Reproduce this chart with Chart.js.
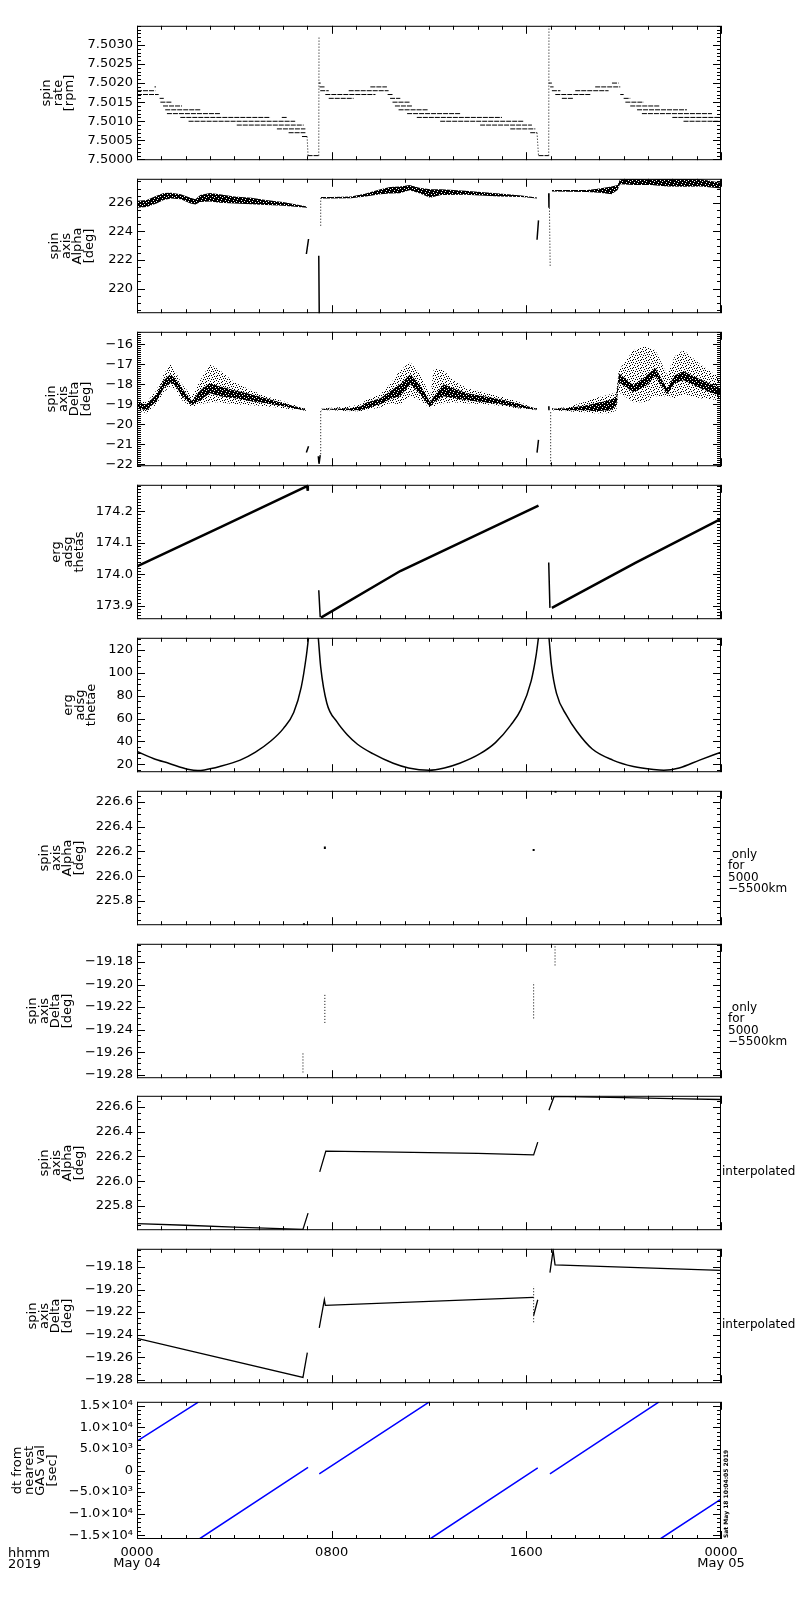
<!DOCTYPE html>
<html>
<head>
<meta charset="utf-8">
<title>ERG spin axis, 2019 May 04</title>
<script src="https://cdn.jsdelivr.net/npm/chart.js@4.4.1/dist/chart.umd.min.js"></script>
<style>
  html, body { margin: 0; padding: 0; background: #ffffff; }
  #page { position: relative; width: 800px; height: 1600px; overflow: hidden; }
  #page canvas { position: absolute; left: 0; }
</style>
</head>
<body>
<div id="page"></div>
<script>
// time is in hours after 0000 UT, 2019 May 04
const timeTicks = [0, 8, 16, 24];
const timeTickLabels = [['0000', 'May 04'], '0800', '1600', ['0000', 'May 05']];

// 1) spin rate [rpm] - flat runs at the quantised levels
const rateRunFrom  = [0.00, 0.00, 0.72, 0.93, 0.96, 1.07, 1.16, 1.23, 1.78, 5.95, 2.12, 4.10, 5.75, 6.23, 6.78, 7.01,
                      7.47, 7.50, 7.53, 7.74, 7.88, 8.70, 9.59, 10.30, 10.40, 10.50, 10.60, 10.75, 11.10, 11.50, 12.46, 14.10, 15.34, 16.16, 16.50,
                      16.92, 16.98, 17.05, 17.19, 17.46, 18.01, 18.83, 19.52, 19.86, 20.00, 20.07, 20.27, 20.55, 20.75, 22.00, 22.46];
const rateRunTo    = [0.75, 0.89, 0.78, 1.10, 1.44, 1.85, 2.60, 3.42, 5.48, 6.15, 6.50, 6.85, 6.92, 6.92, 6.99, 7.47,
                      7.55, 7.74, 7.88, 9.80, 8.90, 10.34, 10.27, 10.50, 10.82, 11.23, 11.30, 11.98, 13.29, 15.00, 15.89, 16.23, 16.37, 16.44, 16.92,
                      17.05, 17.12, 17.40, 18.63, 17.94, 19.38, 19.86, 19.79, 20.00, 20.27, 20.82, 21.50, 22.60, 23.63, 24.00, 24.00];
const rateRunLevel = [7.5018, 7.5017, 7.5019, 7.5016, 7.5015, 7.5014, 7.5013, 7.5012, 7.5011, 7.5011, 7.5010, 7.5009, 7.5008, 7.5007, 7.5006, 7.5001,
                      7.5020, 7.5019, 7.5018, 7.5017, 7.5016, 7.5018, 7.5019, 7.5017, 7.5016, 7.5015, 7.5014, 7.5013, 7.5012, 7.5011, 7.5010, 7.5009, 7.5008, 7.5007, 7.5001,
                      7.5020, 7.5019, 7.5018, 7.5017, 7.5016, 7.5018, 7.5019, 7.5020, 7.5017, 7.5016, 7.5015, 7.5014, 7.5013, 7.5012, 7.5011, 7.5010];
const rateJumpH0 = [6.99, 7.47, 16.44, 16.92];
const rateJumpV0 = [7.5006, 7.5001, 7.5007, 7.5001];
const rateJumpH1 = [7.03, 7.48, 16.50, 16.93];
const rateJumpV1 = [7.5001, 7.5032, 7.5001, 7.5035];
const rateTicks = [7.5000, 7.5005, 7.5010, 7.5015, 7.5020, 7.5025, 7.5030];

// 2) spin axis Alpha [deg] - envelope of the scattered band
const alphaHours = [0, 0.4, 0.8, 1.1, 1.4, 1.8, 2.2, 2.4, 2.6, 3.0, 3.4, 4.0, 4.7, 5.3, 6.0, 6.5, 6.99, 7.3,
                    7.56, 8.0, 8.8, 9.4, 10.0, 10.4, 10.8, 11.2, 11.6, 12.05, 12.5, 13.5, 14.9, 15.8, 16.44, 16.7,
                    17.05, 17.8, 18.5, 19.0, 19.5, 19.75, 19.85, 20.4, 21.1, 21.8, 22.5, 23.2, 24.0];
const alphaUpper = [226.15, 226.2, 226.5, 226.68, 226.7, 226.6, 226.35, 226.25, 226.55, 226.68, 226.6, 226.45, 226.35, 226.2, 226.05, 225.9, 225.75, null,
                    226.4, 226.4, 226.45, 226.65, 226.95, 227.1, 227.15, 227.25, 227.05, 226.95, 226.95, 226.85, 226.65, 226.52, 226.38, null,
                    226.9, 226.9, 226.9, 227.0, 227.15, 227.25, 227.65, 227.68, 227.65, 227.68, 227.68, 227.65, 227.4];
const alphaLower = [225.65, 225.7, 225.95, 226.2, 226.3, 226.25, 225.95, 225.88, 226.05, 226.1, 226.0, 225.95, 225.9, 225.85, 225.8, 225.72, 225.65, null,
                    226.3, 226.3, 226.32, 226.45, 226.6, 226.65, 226.67, 226.88, 226.67, 226.35, 226.55, 226.56, 226.45, 226.4, 226.3, null,
                    226.8, 226.78, 226.75, 226.7, 226.6, 226.9, 227.3, 227.25, 227.25, 227.15, 227.12, 227.15, 227.0];
const alphaStrokeH0 = [6.96, 7.47, 16.44, 16.92];
const alphaStrokeV0 = [222.42, 222.3, 223.42, 226.67];
const alphaStrokeH1 = [7.05, 7.49, 16.50, 16.93];
const alphaStrokeV1 = [223.47, 218.2, 224.77, 225.66];
const alphaDotH0 = [7.55, 16.95];
const alphaDotV0 = [224.4, 225.66];
const alphaDotH1 = [7.55, 16.98];
const alphaDotV1 = [226.34, 221.5];
const alphaTicks = [220, 222, 224, 226];

// 3) spin axis Delta [deg] - dense core and scatter envelopes
const deltaHours = [0, 0.4, 0.8, 1.1, 1.37, 1.6, 1.85, 2.26, 2.6, 3.0, 3.4, 4.0, 4.7, 5.3, 6.0, 6.5, 6.95, 7.3,
                    7.56, 8.0, 8.8, 9.2, 9.45, 10.0, 10.4, 10.82, 11.23, 11.64, 12.05, 12.2, 12.6, 13.0, 13.56, 14.25, 14.93, 15.6, 16.44, 16.7,
                    17.05, 17.7, 18.2, 18.5, 18.8, 19.45, 19.7, 19.8, 20.4, 20.9, 21.3, 21.78, 22.1, 22.46, 23.15, 23.97];
const deltaCoreHi = [-18.95, -19.0, -18.5, -17.8, -17.5, -17.75, -18.2, -18.85, -18.3, -17.95, -18.1, -18.3, -18.5, -18.7, -18.95, -19.1, -19.25, null,
                     -19.22, -19.22, -19.2, -19.1, -18.9, -18.7, -18.35, -18.0, -17.5, -18.05, -18.9, -18.6, -18.0, -18.2, -18.45, -18.6, -18.75, -18.95, -19.22, null,
                     -19.22, -19.2, -19.1, -19.05, -18.95, -18.8, -18.6, -17.45, -18.05, -17.6, -17.2, -18.2, -17.55, -17.35, -17.75, -18.2];
const deltaCoreLo = [-19.2, -19.3, -18.85, -18.2, -17.9, -18.1, -18.6, -19.05, -18.8, -18.45, -18.6, -18.7, -18.85, -18.95, -19.1, -19.22, -19.3, null,
                     -19.28, -19.28, -19.3, -19.3, -19.2, -19.0, -18.75, -18.6, -18.0, -18.5, -19.15, -18.9, -18.6, -18.7, -18.8, -18.9, -19.0, -19.15, -19.28, null,
                     -19.28, -19.3, -19.3, -19.3, -19.35, -19.3, -19.1, -17.9, -18.4, -18.1, -17.6, -18.5, -17.95, -17.8, -18.2, -18.6];
const deltaScatHi = [-18.85, -18.9, -18.3, -17.5, -17.0, -17.4, -18.0, -18.6, -17.8, -17.0, -17.3, -17.9, -18.3, -18.6, -18.85, -19.05, -19.22, null,
                     -19.2, -19.18, -19.1, -19.0, -18.75, -18.5, -18.0, -17.3, -16.9, -17.5, -18.6, -17.2, -17.3, -17.8, -18.2, -18.4, -18.6, -18.85, -19.2, null,
                     -19.2, -19.15, -18.95, -18.85, -18.7, -18.5, -18.4, -17.3, -16.3, -16.1, -16.3, -17.5, -16.6, -16.3, -17.0, -17.7];
const deltaScatLo = [-19.3, -19.45, -19.0, -18.4, -18.1, -18.3, -18.8, -19.15, -19.0, -18.9, -18.9, -19.0, -19.05, -19.1, -19.2, -19.28, -19.33, null,
                     -19.3, -19.3, -19.35, -19.35, -19.3, -19.15, -18.95, -19.0, -18.6, -18.8, -19.2, -19.1, -18.95, -18.9, -18.95, -19.0, -19.08, -19.2, -19.3, null,
                     -19.3, -19.35, -19.4, -19.4, -19.45, -19.45, -19.3, -18.4, -18.9, -18.9, -18.6, -18.6, -18.7, -18.5, -18.7, -18.8];
const deltaStrokeH0 = [6.96, 7.45, 7.48, 16.44, 16.92];
const deltaStrokeV0 = [-21.42, -21.6, -21.98, -21.42, -19.1];
const deltaStrokeH1 = [7.05, 7.48, 7.53, 16.50, 16.93];
const deltaStrokeV1 = [-21.1, -21.98, -21.55, -20.78, -19.3];
const deltaDotH0 = [7.55, 17.0];
const deltaDotV0 = [-21.5, -19.4];
const deltaDotH1 = [7.55, 17.0];
const deltaDotV1 = [-19.3, -22.1];
const deltaTicks = [-22, -21, -20, -19, -18, -17, -16];

// 4) erg adsg thetas
const thetasHours = [0, 3.5, 6.99, 7.02, 7.3, 7.56, 10.82, 16.5, 16.8, 17.05, 20.5, 24.0];
const thetas      = [174.025, 174.152, 174.280, 174.265, null, 173.862, 174.010, 174.218, null, 173.893, 174.037, 174.176];
const thetasDropH0 = [7.47, 16.92];
const thetasDropV0 = [173.949, 174.037];
const thetasDropH1 = [7.53, 16.97];
const thetasDropV1 = [173.863, 173.893];
const thetasTicks = [173.9, 174.0, 174.1, 174.2];

// 5) erg adsg thetae
const thetaeHours = [0, 0.67, 1.3, 2.14, 2.5, 2.77, 3.4, 4.24, 4.87, 5.5, 6.02, 6.44, 6.75, 6.96, 7.05, 7.25,
                     7.45, 7.55, 7.8, 8.22, 8.64, 9.06, 9.69, 10.53, 11.16, 12.0, 12.63, 13.26, 14.1, 14.73, 15.36, 15.78, 16.2, 16.4, 16.5, 16.7,
                     16.93, 17.03, 17.24, 17.66, 18.08, 18.71, 19.55, 20.4, 21.23, 21.65, 22.28, 23.12, 24];
const thetae      = [31.1, 25, 20.8, 15.3, 14.5, 15.0, 18, 23.6, 30.6, 40.3, 51.4, 65.3, 87.5, 115, 131, null,
                     131, 105, 73.6, 57, 45.8, 37.5, 29.2, 20.8, 16.7, 14.7, 16.7, 20.8, 29.2, 38.9, 54.2, 68, 93, 115, 131, null,
                     131, 107, 82, 62.5, 48.6, 33.3, 23.6, 18, 15.3, 14.7, 16.7, 23.6, 30.6];
const thetaeTicks = [20, 40, 60, 80, 100, 120];

// 6) + 7) spin axis only for 5000-5500 km
const gasAlphaHours = [6.86, 7.72, 16.3, 17.2];
const gasAlphaLo = [225.605, 226.22, 226.205, 226.675];
const gasAlphaHi = [225.62, 226.24, 226.22, 226.69];
const gasDeltaHours = [6.82, 7.72, 16.3, 17.18];
const gasDeltaLo = [-19.278, -19.234, -19.23, -19.183];
const gasDeltaHi = [-19.26, -19.209, -19.198, -19.165];
const gasAlphaTicks = [225.8, 226.0, 226.2, 226.4, 226.6];
const gasDeltaTicks = [-19.28, -19.26, -19.24, -19.22, -19.20, -19.18];

// 8) + 9) interpolated spin axis
const interpAlphaHours = [0, 2, 4, 6.82, 7.03, 7.3, 7.51, 7.76, 10, 12, 14, 16.3, 16.47, 16.7, 16.93, 17.14, 20, 22, 24];
const interpAlpha      = [225.658, 225.645, 225.630, 225.612, 225.743, null, 226.076, 226.244, 226.238, 226.232, 226.226, 226.213, 226.316, null,
                          226.574, 226.685, 226.675, 226.668, 226.660];
const interpDeltaHours = [0, 6.82, 7.0, 7.2, 7.49, 7.70, 7.74, 16.3, 16.3, 16.3, 16.47, 16.7, 16.97, 17.1, 17.18, 24];
const interpDelta      = [-19.2433, -19.278, -19.256, null, -19.234, -19.209, -19.214, -19.207, null, -19.223, -19.209, null,
                          -19.185, -19.165, -19.178, -19.183];
const interpDeltaDotH = [16.3];
const interpDeltaDotLo = [-19.229];
const interpDeltaDotHi = [-19.197];

// 10) dt from nearest GAS val [sec]
const dtH0 = [0, 2.56, 7.49, 12.04, 16.97, 21.5];
const dtV0 = [6800, -15850, -800, -15850, -800, -15850];
const dtH1 = [2.52, 7.03, 12.0, 16.47, 21.44, 24];
const dtV1 = [15850, 700, 15850, 600, 15850, -6600];
const dtTicks = [-15000, -10000, -5000, 0, 5000, 10000, 15000];
const dtTickLabels = ['\u22121.5\u00d710\u2074', '\u22121.0\u00d710\u2074', '\u22125.0\u00d710\u00b3', '0',
                      '5.0\u00d710\u00b3', '1.0\u00d710\u2074', '1.5\u00d710\u2074'];

// ---------------------------------------------------------------
const FONT = 'DejaVu Sans';
const PLOT_LEFT = 137, PLOT_RIGHT = 721, PLOT_H = 140, PAD = 9;
const panelTops = [23, 176, 329, 482, 635, 788, 941, 1093, 1246, 1399];

function pts(xs, ys) {
  return xs.map((x, i) => ({x: x, y: ys[i]}));
}
function segs(x0, y0, x1, y1) {
  const out = [];
  x0.forEach((x, i) => {
    out.push({x: x, y: y0[i]}, {x: x1[i], y: y1[i]}, {x: x1[i], y: null});
  });
  return out;
}
function line(data, extra) {
  return Object.assign({data: data, borderColor: '#000', borderWidth: 1, pointRadius: 0,
                        fill: false, tension: 0, spanGaps: false}, extra || {});
}
// fixed 8x8 dot tiles, used to fake the scattered points of the attitude bands
function stipple(rows) {
  const c = document.createElement('canvas');
  c.width = 8; c.height = 8;
  const g = c.getContext('2d');
  g.fillStyle = '#000';
  rows.forEach((r, j) => r.split('').forEach((ch, i) => { if (ch === '1') g.fillRect(i, j, 1, 1); }));
  return g.createPattern(c, 'repeat');
}
const sparseDots = stipple(['10000010', '00001000', '01000001', '00010100',
                            '10000000', '00100010', '00000100', '01010000']);
const denseDots = stipple(['11111011', '10111111', '11110111', '11011110',
                           '11111111', '01110111', '11111101', '11011111']);

const framePlugin = {
  id: 'frame',
  afterDraw(chart, args, opts) {
    const {ctx, chartArea: a} = chart;
    const x = chart.scales.x, y = chart.scales.y;
    ctx.save();
    ctx.strokeStyle = '#000';
    ctx.lineWidth = 1;
    ctx.beginPath();
    const yTick = (v, len) => {
      const py = Math.round(y.getPixelForValue(v)) + 0.5;
      ctx.moveTo(a.left, py); ctx.lineTo(a.left + len, py);
      ctx.moveTo(a.right, py); ctx.lineTo(a.right - len, py);
    };
    y.ticks.forEach(t => yTick(t.value, 8));
    const step = opts.yMinor;
    for (let k = Math.ceil(y.min / step - 1e-6); k * step <= y.max + step * 1e-6; k++) yTick(k * step, 4);
    for (let h = 0; h <= 24; h++) {
      const px = Math.round(x.getPixelForValue(h)) + 0.5;
      const len = h % 8 === 0 ? 8 : 4;
      ctx.moveTo(px, a.bottom); ctx.lineTo(px, a.bottom - len);
      ctx.moveTo(px, a.top); ctx.lineTo(px, a.top + len);
    }
    ctx.stroke();
    ctx.strokeRect(a.left + 0.5, a.top + 0.5, a.right - a.left - 1, a.bottom - a.top - 1);

    ctx.fillStyle = '#000';
    ctx.textBaseline = 'middle';
    const mid = (a.top + a.bottom) / 2;
    (opts.notes || []).forEach(n => {
      ctx.font = (n.weight || 'normal') + ' ' + n.size + 'px "' + FONT + '"';
      ctx.textAlign = n.align || 'left';
      const y0 = n.from === 'bottom' ? a.bottom + n.dy : mid + n.dy;
      if (n.rotate) {
        ctx.save();
        ctx.translate(n.x, y0);
        ctx.rotate(-Math.PI / 2);
        ctx.fillText(n.lines[0], 0, 0);
        ctx.restore();
      } else {
        n.lines.forEach((s, i) => ctx.fillText(s, n.x, y0 + i * (n.lh || 11)));
      }
    });
    ctx.restore();
  }
};

const page = document.getElementById('page');

function panel(i, cfg) {
  const last = i === panelTops.length - 1;
  const h = PAD + PLOT_H + (last ? 44 : PAD);
  const cv = document.createElement('canvas');
  cv.width = 800; cv.height = h;
  cv.style.width = '800px'; cv.style.height = h + 'px';
  cv.style.top = (panelTops[i] - PAD) + 'px';
  page.appendChild(cv);

  const xAxis = last ? {
    type: 'linear', min: 0, max: 24, position: 'bottom',
    afterBuildTicks: s => { s.ticks = timeTicks.map(v => ({value: v})); },
    afterFit: s => { s.height = 44; },
    grid: {display: false, drawTicks: false},
    border: {display: false},
    ticks: {autoSkip: false, maxRotation: 0, padding: 8, color: '#000',
            font: {family: FONT, size: 13, lineHeight: '11px'},
            callback: (v, k) => timeTickLabels[k]}
  } : {type: 'linear', min: 0, max: 24, display: false};

  return new Chart(cv, {
    type: 'line',
    data: {datasets: cfg.datasets},
    options: {
      responsive: false,
      animation: false,
      events: [],
      layout: {padding: {left: 0, right: 800 - PLOT_RIGHT, top: PAD, bottom: last ? 0 : PAD}},
      plugins: {
        legend: {display: false},
        tooltip: {enabled: false},
        frame: {yMinor: cfg.minor, notes: cfg.notes}
      },
      scales: {
        x: xAxis,
        y: {
          type: 'linear', min: cfg.range[0], max: cfg.range[1], bounds: 'data',
          afterBuildTicks: s => { s.ticks = cfg.ticks.map(v => ({value: v})); },
          afterFit: s => { s.width = PLOT_LEFT; },
          grid: {display: false, drawTicks: false},
          border: {display: false},
          ticks: {autoSkip: false, padding: 4, color: '#000', font: {family: FONT, size: 13}, callback: cfg.fmt},
          title: {display: true, text: cfg.title, color: '#000',
                  font: {family: FONT, size: 13, lineHeight: '11.5px'},
                  padding: {top: cfg.titleAt - 5.75, bottom: 0}}
        }
      }
    },
    plugins: [framePlugin]
  });
}

const minus = s => s.replace('-', '\u2212');
const dotted = {borderDash: [1, 2]};
const gasNote = [{lines: [' only', 'for', '5000', '\u22125500km'], x: 728, dy: -3, lh: 11.3, size: 12}];
const interpNote = [{lines: ['interpolated'], x: 722, dy: 9, size: 12}];

panel(0, {
  title: ['spin', 'rate', '[rpm]'], titleAt: 47,
  range: [7.49998, 7.50350], ticks: rateTicks, minor: 0.0001, fmt: v => v.toFixed(4),
  datasets: [
    line(segs(rateRunFrom, rateRunLevel, rateRunTo, rateRunLevel), {borderDash: [5, 1]}),
    line(segs(rateJumpH0, rateJumpV0, rateJumpH1, rateJumpV1), dotted)
  ]
});

panel(1, {
  title: ['spin', 'axis', 'Alpha', '[deg]'], titleAt: 55,
  range: [218.28, 227.68], ticks: alphaTicks, minor: 0.5, fmt: v => v.toFixed(0),
  datasets: [
    line(pts(alphaHours, alphaLower), {borderWidth: 0}),
    line(pts(alphaHours, alphaUpper), {borderWidth: 0, fill: '-1', backgroundColor: denseDots}),
    line(segs(alphaStrokeH0, alphaStrokeV0, alphaStrokeH1, alphaStrokeV1), {borderWidth: 1.5}),
    line(segs(alphaDotH0, alphaDotV0, alphaDotH1, alphaDotV1), dotted)
  ]
});

panel(2, {
  title: ['spin', 'axis', 'Delta', '[deg]'], titleAt: 52,
  range: [-22.1, -15.375], ticks: deltaTicks, minor: 0.1, fmt: v => minus(v.toFixed(0)),
  datasets: [
    line(pts(deltaHours, deltaScatLo), {borderWidth: 0}),
    line(pts(deltaHours, deltaScatHi), {borderWidth: 0, fill: '-1', backgroundColor: sparseDots}),
    line(pts(deltaHours, deltaCoreLo), {borderWidth: 0}),
    line(pts(deltaHours, deltaCoreHi), {borderWidth: 0, fill: '-1', backgroundColor: denseDots}),
    line(segs(deltaStrokeH0, deltaStrokeV0, deltaStrokeH1, deltaStrokeV1), {borderWidth: 1.5}),
    line(segs(deltaDotH0, deltaDotV0, deltaDotH1, deltaDotV1), dotted)
  ]
});

panel(3, {
  title: ['erg', 'adsg', 'thetas'], titleAt: 57,
  range: [173.857, 174.284], ticks: thetasTicks, minor: 0.01, fmt: v => v.toFixed(1),
  datasets: [
    line(pts(thetasHours, thetas), {borderWidth: 2.5}),
    line(segs(thetasDropH0, thetasDropV0, thetasDropH1, thetasDropV1), {borderWidth: 1.5})
  ]
});

panel(4, {
  title: ['erg', 'adsg', 'thetae'], titleAt: 69,
  range: [13, 130.7], ticks: thetaeTicks, minor: 5, fmt: v => v.toFixed(0),
  datasets: [
    line(pts(thetaeHours, thetae), {borderWidth: 1.5, cubicInterpolationMode: 'monotone'})
  ]
});

panel(5, {
  title: ['spin', 'axis', 'Alpha', '[deg]'], titleAt: 45,
  range: [225.605, 226.69], ticks: gasAlphaTicks, minor: 0.05, fmt: v => v.toFixed(1),
  notes: gasNote,
  datasets: [
    line(segs(gasAlphaHours, gasAlphaLo, gasAlphaHours, gasAlphaHi), {borderWidth: 2})
  ]
});

panel(6, {
  title: ['spin', 'axis', 'Delta', '[deg]'], titleAt: 33,
  range: [-19.2831, -19.1638], ticks: gasDeltaTicks, minor: 0.005, fmt: v => minus(v.toFixed(2)),
  notes: gasNote,
  datasets: [
    line(segs(gasDeltaHours, gasDeltaLo, gasDeltaHours, gasDeltaHi), dotted)
  ]
});

panel(7, {
  title: ['spin', 'axis', 'Alpha', '[deg]'], titleAt: 45,
  range: [225.605, 226.69], ticks: gasAlphaTicks, minor: 0.05, fmt: v => v.toFixed(1),
  notes: interpNote,
  datasets: [
    line(pts(interpAlphaHours, interpAlpha), {borderWidth: 1.3})
  ]
});

panel(8, {
  title: ['spin', 'axis', 'Delta', '[deg]'], titleAt: 33,
  range: [-19.2831, -19.1638], ticks: gasDeltaTicks, minor: 0.005, fmt: v => minus(v.toFixed(2)),
  notes: interpNote,
  datasets: [
    line(pts(interpDeltaHours, interpDelta), {borderWidth: 1.3}),
    line(segs(interpDeltaDotH, interpDeltaDotLo, interpDeltaDotH, interpDeltaDotHi), dotted)
  ]
});

panel(9, {
  title: ['dt from', 'nearest', 'GAS val', '[sec]'], titleAt: 18,
  range: [-15850, 15900], ticks: dtTicks, minor: 1000, fmt: (v, k) => dtTickLabels[k],
  notes: [
    {lines: ['hhmm', '2019'], x: 8, dy: 15, from: 'bottom', lh: 11, size: 13},
    {lines: ['Sat May 18 10:04:05 2019'], x: 726, dy: -1, from: 'bottom', size: 6, weight: 'bold', rotate: true}
  ],
  datasets: [
    line(segs(dtH0, dtV0, dtH1, dtV1), {borderColor: '#0000ff', borderWidth: 1.5})
  ]
});
</script>
</body>
</html>
